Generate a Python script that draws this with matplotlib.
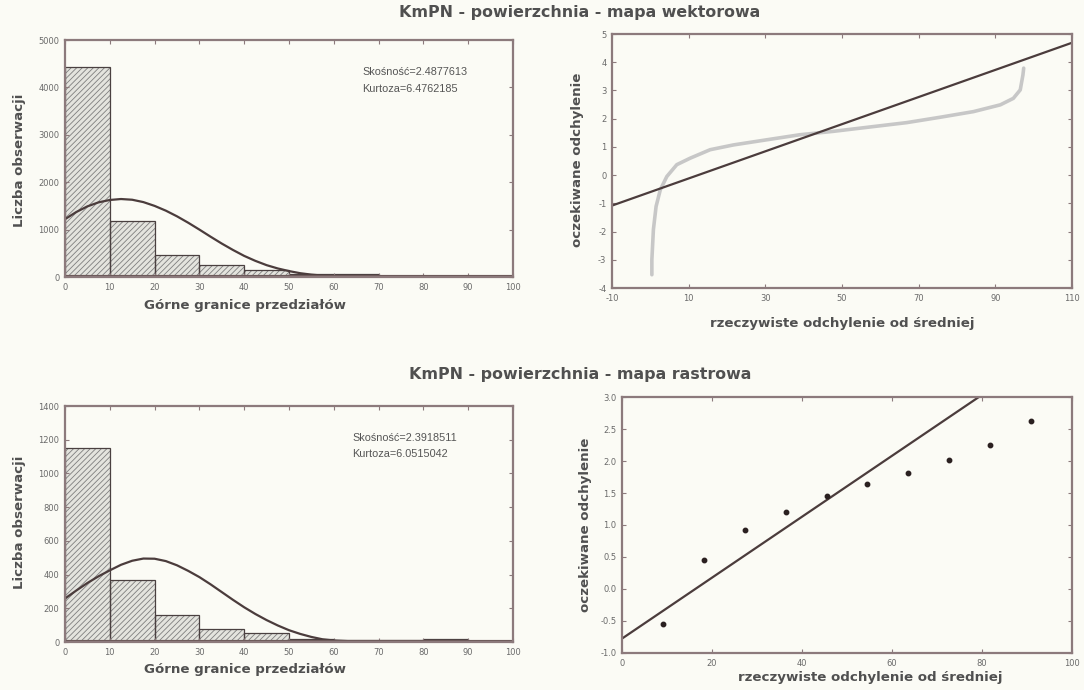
import numpy as np
import matplotlib
matplotlib.use("Agg")
import matplotlib.pyplot as plt

plt.rcParams["font.family"] = ["DejaVu Sans"]
plt.rcParams["axes.unicode_minus"] = False
plt.rcParams["hatch.linewidth"] = 0.6

# ----------------------------
# DATA
# ----------------------------
bin_edges = [0, 10, 20, 30, 40, 50, 60, 70, 80, 90, 100]

# vector map histogram
vec_counts = [4440, 1190, 465, 250, 140, 65, 55, 25, 5, 5]
vec_curve_x = [0, 2.5, 5, 7.5, 10, 12.5, 15, 17.5, 20, 22.5, 25, 27.5, 30, 32.5,
               35, 37.5, 40, 42.5, 45, 47.5, 50, 52.5, 55, 57.5, 60, 65, 70, 100]
vec_curve_y = [1220, 1370, 1490, 1575, 1625, 1645, 1630, 1580, 1500, 1400, 1280,
               1145, 1000, 850, 705, 570, 445, 340, 250, 180, 125, 80, 50, 30, 17,
               5, 1, 0]
vec_skew = "Skośność=2.4877613"
vec_kurt = "Kurtoza=6.4762185"

# raster map histogram
ras_counts = [1148, 368, 163, 80, 56, 20, 10, 10, 20, 2]
ras_curve_x = [0, 2.5, 5, 7.5, 10, 12.5, 15, 17.5, 20, 22.5, 25, 27.5, 30, 32.5,
               35, 37.5, 40, 42.5, 45, 47.5, 50, 52.5, 55, 57.5, 60, 65, 70, 100]
ras_curve_y = [258, 305, 350, 390, 425, 458, 482, 495, 494, 480, 455, 422, 385,
               342, 296, 250, 206, 166, 130, 98, 70, 48, 30, 16, 9, 3, 1, 0]
ras_skew = "Skośność=2.3918511"
ras_kurt = "Kurtoza=6.0515042"

# vector map normal probability plot
vec_qq_x = [0.4, 0.4, 0.8, 1.5, 2.6, 4.3, 6.9, 10.4, 15.6, 21.7, 30.3, 39.0, 47.7,
            58.2, 66.9, 75.6, 84.3, 91.3, 94.7, 96.5, 97.2, 97.4]
vec_qq_y = [-3.53, -3.0, -1.93, -1.11, -0.52, -0.05, 0.37, 0.6, 0.9, 1.07, 1.25,
            1.43, 1.55, 1.72, 1.86, 2.05, 2.25, 2.49, 2.72, 3.02, 3.55, 3.79]
vec_line_x = [-10, 110]
vec_line_y = [-1.08, 4.69]

# raster map normal probability plot
ras_qq_x = [9.1, 18.2, 27.3, 36.4, 45.5, 54.5, 63.6, 72.7, 81.8, 90.9]
ras_qq_y = [-0.55, 0.46, 0.92, 1.21, 1.46, 1.64, 1.81, 2.02, 2.25, 2.63]
ras_line_x = [0, 100]
ras_line_y = [-0.775, 3.985]

title_vec = "KmPN - powierzchnia - mapa wektorowa"
title_ras = "KmPN - powierzchnia - mapa rastrowa"
hist_xlabel = "Górne granice przedziałów"
hist_ylabel = "Liczba obserwacji"
qq_xlabel = "rzeczywiste odchylenie od średniej"
qq_ylabel = "oczekiwane odchylenie"

# ----------------------------
# STYLE
# ----------------------------
BG = "#fbfbf5"
FRAME = "#8c7a7c"
DARK = "#4b3c3c"
TXT = "#505050"
TICK = "#6a6a6a"

W, H = 1084, 690
fig = plt.figure(figsize=(W / 100, H / 100), dpi=100)
fig.patch.set_facecolor(BG)


def rect(x0, y0, x1, y1):
    return [x0 / W, 1 - y1 / H, (x1 - x0) / W, (y1 - y0) / H]


def style_axes(ax):
    ax.set_facecolor(BG)
    for s in ax.spines.values():
        s.set_color(FRAME)
        s.set_linewidth(1.6)
    ax.tick_params(direction="in", top=True, right=True, length=3, width=0.8,
                   colors=FRAME, labelcolor=TICK, labelsize=6, pad=4)


def label(x, y, s, rot=0, size=9.6):
    fig.text(x / W, 1 - y / H, s, ha="center", va="center", rotation=rot,
             fontsize=size, color=TXT, fontweight="bold")


def hist_panel(ax, counts, cx, cy, ymax, ystep, skew, kurt, tx):
    style_axes(ax)
    lefts = bin_edges[:-1]
    ax.bar(lefts, counts, width=10, align="edge", color="#e4e4de",
           edgecolor="#7e7e7e", hatch="//////", linewidth=0)
    ax.bar(lefts, counts, width=10, align="edge", fill=False,
           edgecolor="#4a4040", linewidth=0.9)
    ax.plot(cx, cy, color=DARK, lw=1.6)
    ax.axhline(0, color="#6b5858", lw=3)
    ax.set_xlim(0, 100)
    ax.set_ylim(0, ymax)
    ax.set_xticks(np.arange(0, 101, 10))
    ax.set_yticks(np.arange(0, ymax + 1, ystep))
    ax.text(tx, 0.865, skew, transform=ax.transAxes, fontsize=7.8, va="center",
            family="Liberation Sans", color="#555555")
    ax.text(tx, 0.795, kurt, transform=ax.transAxes, fontsize=7.8, va="center",
            family="Liberation Sans", color="#555555")


# top left
ax1 = fig.add_axes(rect(65, 40, 513, 277))
hist_panel(ax1, vec_counts, vec_curve_x, vec_curve_y, 5000, 1000,
           vec_skew, vec_kurt, 0.663)

# bottom left
ax3 = fig.add_axes(rect(65, 406, 513, 642))
hist_panel(ax3, ras_counts, ras_curve_x, ras_curve_y, 1400, 200,
           ras_skew, ras_kurt, 0.642)

# top right
ax2 = fig.add_axes(rect(612, 34, 1072, 288))
style_axes(ax2)
ax2.plot(vec_qq_x, vec_qq_y, color="#c2c2c2", lw=2.6, solid_capstyle="round", alpha=0.9)
ax2.plot(vec_line_x, vec_line_y, color=DARK, lw=1.6)
ax2.set_xlim(-10, 110)
ax2.set_ylim(-4, 5)
ax2.set_xticks(np.arange(-10, 111, 20))
ax2.set_yticks(np.arange(-4, 6, 1))

# bottom right
ax4 = fig.add_axes(rect(622, 397, 1072, 653))
style_axes(ax4)
ax4.plot(ras_line_x, ras_line_y, color=DARK, lw=1.6)
ax4.plot(ras_qq_x, ras_qq_y, "o", color="#2a2020", ms=3.2)
ax4.set_xlim(0, 100)
ax4.set_ylim(-1, 3)
ax4.set_xticks(np.arange(0, 101, 20))
ax4.set_yticks(np.arange(-1, 3.01, 0.5))
ax4.set_yticklabels([f"{v:.1f}" for v in np.arange(-1, 3.01, 0.5)])

# titles and axis labels
label(580, 13, title_vec, size=11.4)
label(580, 375, title_ras, size=11.4)
label(245, 305, hist_xlabel)
label(245, 670, hist_xlabel)
label(20, 160, hist_ylabel, rot=90)
label(20, 522, hist_ylabel, rot=90)
label(842, 323, qq_xlabel)
label(870, 678, qq_xlabel)
label(578, 160, qq_ylabel, rot=90)
label(585, 525, qq_ylabel, rot=90)

plt.savefig("out.png", dpi=100, facecolor=BG)
